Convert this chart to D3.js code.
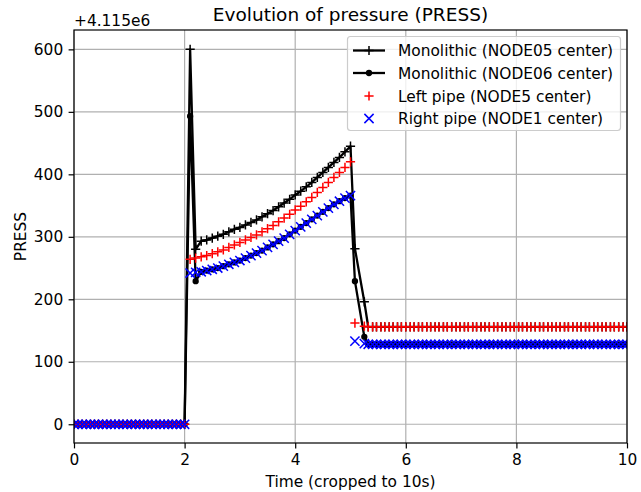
<!DOCTYPE html>
<html>
<head>
<meta charset="utf-8">
<script src="https://cdn.jsdelivr.net/npm/d3@7"></script>
<style>
  body { margin: 0; background: #fff; }
  text { font-family: "DejaVu Sans", sans-serif; }
</style>
</head>
<body>
<div id="chart"></div>
<script>
// time samples (s)
const tPre = [0.00,0.07,0.15,0.22,0.30,0.37,0.44,0.52,0.59,0.67,
              0.74,0.81,0.89,0.96,1.04,1.11,1.19,1.26,1.33,1.41,
              1.48,1.56,1.63,1.70,1.78,1.85,1.93,2.00];
const tTrans = [2.1,2.2,2.3,2.4,2.5,2.6,2.7,2.8,2.9,3.0,
                3.1,3.2,3.3,3.4,3.5,3.6,3.7,3.8,3.9,4.0,
                4.1,4.2,4.3,4.4,4.5,4.6,4.7,4.8,4.9,5.0];
const tDrop = [5.08, 5.25];
const tPost = [5.32,5.40,5.47,5.55,5.62,5.70,5.77,5.85,5.92,6.00,
               6.08,6.15,6.23,6.30,6.38,6.45,6.53,6.60,6.68,6.75,
               6.83,6.91,6.98,7.06,7.13,7.21,7.28,7.36,7.43,7.51,
               7.59,7.66,7.74,7.81,7.89,7.96,8.04,8.11,8.19,8.26,
               8.34,8.42,8.49,8.57,8.64,8.72,8.79,8.87,8.94,9.02,
               9.10,9.17,9.25,9.32,9.40,9.47,9.55,9.62,9.70,9.77,
               9.85,9.93,10.00];

// pressure minus 4.115e6
const zeroRun = [0,0,0,0,0,0,0,0,0,0, 0,0,0,0,0,0,0,0,0,0, 0,0,0,0,0,0,0,0];
const upperRun = [156,156,156,156,156,156,156,156,156,156,
                  156,156,156,156,156,156,156,156,156,156,
                  156,156,156,156,156,156,156,156,156,156,
                  156,156,156,156,156,156,156,156,156,156,
                  156,156,156,156,156,156,156,156,156,156,
                  156,156,156,156,156,156,156,156,156,156,
                  156,156,156];
const lowerRun = [128,128,128,128,128,128,128,128,128,128,
                  128,128,128,128,128,128,128,128,128,128,
                  128,128,128,128,128,128,128,128,128,128,
                  128,128,128,128,128,128,128,128,128,128,
                  128,128,128,128,128,128,128,128,128,128,
                  128,128,128,128,128,128,128,128,128,128,
                  128,128,128];

const node05Trans = [600,280,293,295,298,301,304,308,312,315,
                     319,323,327,332,337,342,348,354,360,367,
                     373,380,387,395,403,411,419,427,436,445];
const node06Trans = [493,229,244,246,248,250,253,256,259,262,
                     266,270,274,278,283,288,293,298,304,310,
                     316,322,328,334,340,346,352,357,362,366];
const leftTrans = [264,266,268,270,273,276,279,283,287,291,
                   295,299,303,308,313,318,324,330,336,343,
                   349,356,363,371,379,387,395,403,411,420];
const rightTrans = [242,243,244,246,248,250,253,256,259,262,
                    266,270,274,278,283,288,293,298,304,310,
                    316,322,328,334,340,346,352,357,362,366];

const times = [...tPre, ...tTrans, ...tDrop, ...tPost];
const node05 = [...zeroRun, ...node05Trans, 281, 196, ...upperRun];
const node06 = [...zeroRun, ...node06Trans, 229, 140, ...lowerRun];
const leftPipe = [...zeroRun, ...leftTrans, 162, 157, ...upperRun];
const rightPipe = [...zeroRun, ...rightTrans, 133, 129, ...lowerRun];

const xTicks = [0, 2, 4, 6, 8, 10];
const yTicks = [0, 100, 200, 300, 400, 500, 600];

const seriesList = [
    { name: "Monolithic (NODE05 center)", values: node05, color: "#000", line: true, marker: "plus" },
    { name: "Monolithic (NODE06 center)", values: node06, color: "#000", line: true, marker: "dot" },
    { name: "Left pipe (NODE5 center)", values: leftPipe, color: "#ff0000", line: false, marker: "plus" },
    { name: "Right pipe (NODE1 center)", values: rightPipe, color: "#0000ff", line: false, marker: "cross" }
];

const W = 641, H = 492;
const plotL = 74, plotR = 627, plotT = 30, plotB = 443;
const fs = 15.4;   // 10pt at this resolution

const svg = d3.select("#chart").append("svg")
    .attr("width", W).attr("height", H);

const x = d3.scaleLinear().domain([0, 10]).range([plotL, plotR]);
const y = d3.scaleLinear().domain([-30, 631]).range([plotB, plotT]);

svg.append("defs").append("clipPath").attr("id", "clip")
    .append("rect").attr("x", plotL).attr("y", plotT)
    .attr("width", plotR - plotL).attr("height", plotB - plotT);

// grid
const grid = svg.append("g").attr("stroke", "#b0b0b0").attr("stroke-width", 1.2);
grid.selectAll(".gx").data(xTicks).join("line")
    .attr("x1", d => x(d)).attr("x2", d => x(d))
    .attr("y1", plotT).attr("y2", plotB);
grid.selectAll(".gy").data(yTicks).join("line")
    .attr("x1", plotL).attr("x2", plotR)
    .attr("y1", d => y(d)).attr("y2", d => y(d));

// axes
const xAxis = d3.axisBottom(x).tickValues(xTicks).tickSize(5.4).tickPadding(5.4).tickFormat(d3.format("d"));
const yAxis = d3.axisLeft(y).tickValues(yTicks).tickSize(5.4).tickPadding(5.4).tickFormat(d3.format("d"));

function styleAxis(g) {
    g.select(".domain").remove();
    g.selectAll("line").attr("stroke-width", 1.2);
    g.selectAll("text").attr("font-size", fs).attr("fill", "#000")
        .attr("font-family", "DejaVu Sans");
}
svg.append("g").attr("transform", `translate(0,${plotB})`).call(xAxis).call(styleAxis);
svg.append("g").attr("transform", `translate(${plotL},0)`).call(yAxis).call(styleAxis);

// marker paths
const markerPath = {
    plus: "M-4.6,0H4.6M0,-4.6V4.6",
    cross: "M-4.6,-4.6L4.6,4.6M-4.6,4.6L4.6,-4.6"
};

function drawMarker(g, kind, color) {
    if (kind === "dot") {
        g.append("circle").attr("r", 2.4).attr("fill", color)
            .attr("stroke", color).attr("stroke-width", 1.5);
    } else {
        g.append("path").attr("d", markerPath[kind]).attr("fill", "none")
            .attr("stroke", color).attr("stroke-width", 1.5);
    }
}

const plot = svg.append("g").attr("clip-path", "url(#clip)");
const lineGen = d3.line().x((d, i) => x(times[i])).y(d => y(d));

seriesList.forEach(s => {
    const g = plot.append("g");
    if (s.line) {
        g.append("path").attr("d", lineGen(s.values)).attr("fill", "none")
            .attr("stroke", s.color).attr("stroke-width", 2.3)
            .attr("stroke-linejoin", "round");
    }
    s.values.forEach((v, i) => {
        const m = g.append("g").attr("transform", `translate(${x(times[i])},${y(v)})`);
        drawMarker(m, s.marker, s.color);
    });
});

// frame
svg.append("rect").attr("x", plotL).attr("y", plotT)
    .attr("width", plotR - plotL).attr("height", plotB - plotT)
    .attr("fill", "none").attr("stroke", "#000").attr("stroke-width", 1.2);

// texts
svg.append("text").attr("x", (plotL + plotR) / 2).attr("y", 21)
    .attr("text-anchor", "middle").attr("font-size", 18.5)
    .text("Evolution of pressure (PRESS)");
svg.append("text").attr("x", plotL).attr("y", 25.5)
    .attr("font-size", fs).text("+4.115e6");
svg.append("text").attr("x", (plotL + plotR) / 2).attr("y", 487)
    .attr("text-anchor", "middle").attr("font-size", fs)
    .text("Time (cropped to 10s)");
svg.append("text").attr("transform", `translate(26,${(plotT + plotB) / 2}) rotate(-90)`)
    .attr("text-anchor", "middle").attr("font-size", fs).text("PRESS");

// legend
const lg = svg.append("g");
lg.append("rect").attr("x", 347.5).attr("y", 36.5).attr("width", 273).attr("height", 94)
    .attr("rx", 3).attr("fill", "#fff").attr("fill-opacity", 0.8)
    .attr("stroke", "#cccccc").attr("stroke-width", 1.2);
const rowY = [50.5, 73, 96, 118.5];
seriesList.forEach((s, i) => {
    const ry = rowY[i];
    if (s.line) {
        lg.append("line").attr("x1", 353).attr("x2", 385).attr("y1", ry).attr("y2", ry)
            .attr("stroke", s.color).attr("stroke-width", 2.3);
    }
    const m = lg.append("g").attr("transform", `translate(369,${ry})`);
    drawMarker(m, s.marker, s.color);
    lg.append("text").attr("x", 398).attr("y", ry + 5.5).attr("font-size", fs).text(s.name);
});
</script>
</body>
</html>
